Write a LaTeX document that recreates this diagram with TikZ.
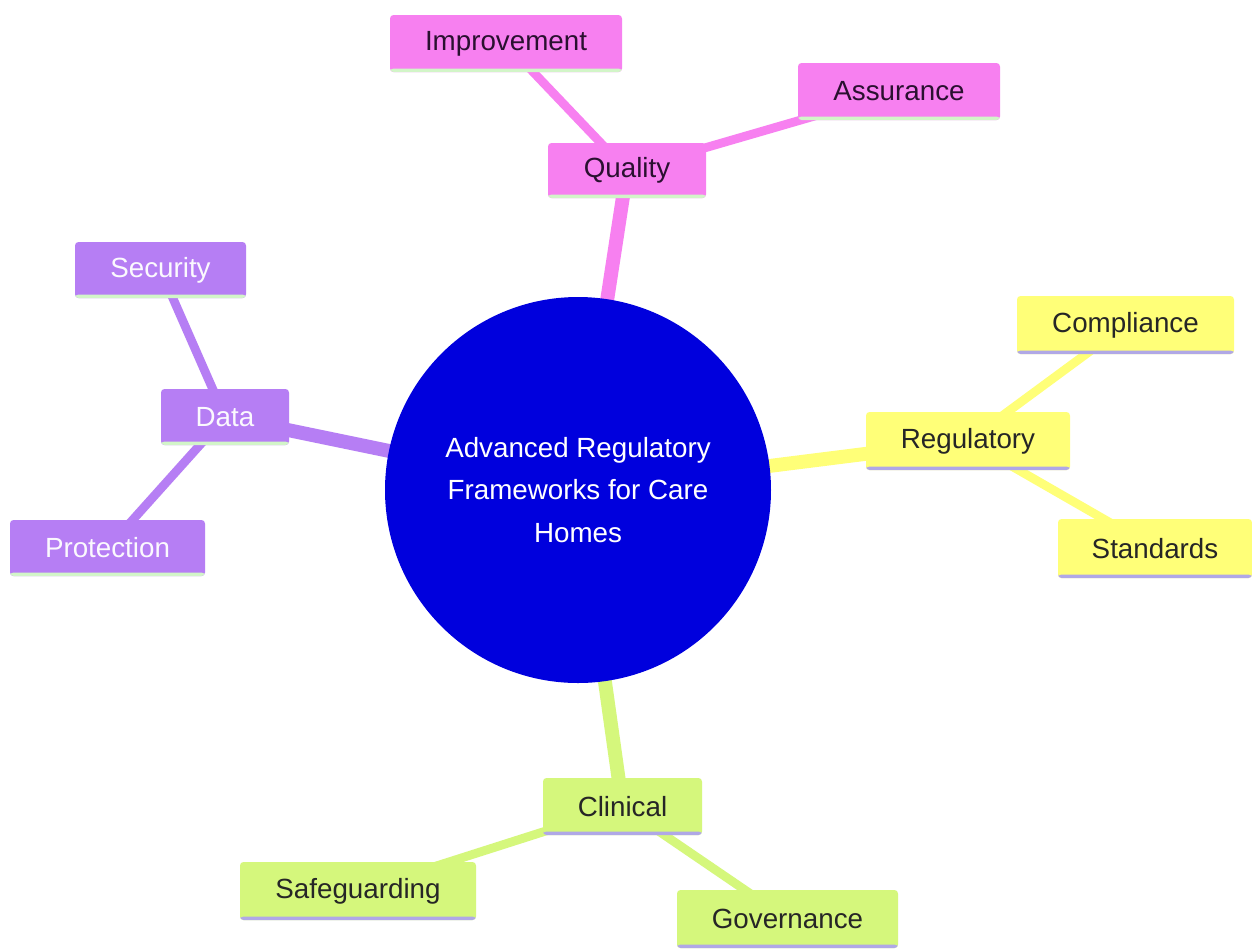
\documentclass[tikz,border=0pt]{standalone}
\usepackage{fontspec}
\setmainfont{Liberation Sans}
\usetikzlibrary{backgrounds}
\definecolor{pinkc}{HTML}{F780F0}
\definecolor{purpc}{HTML}{B67EF4}
\definecolor{yellc}{HTML}{FFFF78}
\definecolor{greenc}{HTML}{D5F77C}
\definecolor{blueC}{HTML}{0000DD}
\definecolor{lgreenline}{HTML}{D2F5C8}
\definecolor{lpurpline}{HTML}{B0A8E6}
\definecolor{darktxt}{HTML}{2A1030}
\tikzset{
  box/.style={rectangle, rounded corners=2pt, inner sep=0pt, font=\fontsize{15.8}{19}\selectfont},
  pinkbox/.style={box, fill=pinkc, text=darktxt, path picture={\fill[lgreenline] ([yshift=0.07cm]path picture bounding box.south west) rectangle (path picture bounding box.south east);}},
  purpbox/.style={box, fill=purpc, text=white!95!purpc, path picture={\fill[lgreenline] ([yshift=0.07cm]path picture bounding box.south west) rectangle (path picture bounding box.south east);}},
  yellbox/.style={box, fill=yellc, text=black!85, path picture={\fill[lpurpline] ([yshift=0.07cm]path picture bounding box.south west) rectangle (path picture bounding box.south east);}},
  greenbox/.style={box, fill=greenc, text=black!85, path picture={\fill[lpurpline] ([yshift=0.07cm]path picture bounding box.south west) rectangle (path picture bounding box.south east);}},
  mainedge/.style={line width=7.9pt},
  subedge/.style={line width=5pt},
}
\begin{document}
\begin{tikzpicture}[x=0.02cm,y=-0.02cm]
\useasboundingbox (0,0) rectangle (1252,948);
% central
\node[circle, fill=blueC, minimum size=386*0.02cm, inner sep=0pt, text=white, align=center, font=\fontsize{15.8}{24.2}\selectfont] (root) at (578,490) {Advanced Regulatory\\Frameworks for Care\\Homes};
% Quality branch
\node[pinkbox, minimum width=158*0.02cm, minimum height=55*0.02cm] (quality) at (627,170.5) {Quality};
\node[pinkbox, minimum width=232*0.02cm, minimum height=57*0.02cm] (improvement) at (506,43.5) {Improvement};
\node[pinkbox, minimum width=202*0.02cm, minimum height=57*0.02cm] (assurance) at (899,91.5) {Assurance};
% Data branch
\node[purpbox, minimum width=128*0.02cm, minimum height=56*0.02cm] (data) at (225,417) {Data};
\node[purpbox, minimum width=171*0.02cm, minimum height=56*0.02cm] (security) at (160.5,270) {Security};
\node[purpbox, minimum width=195*0.02cm, minimum height=56*0.02cm] (protection) at (107.5,548) {Protection};
% Regulatory branch
\node[yellbox, minimum width=204*0.02cm, minimum height=58*0.02cm] (regulatory) at (968,441) {Regulatory};
\node[yellbox, minimum width=217*0.02cm, minimum height=58*0.02cm] (compliance) at (1125.5,325) {Compliance};
\node[yellbox, minimum width=194*0.02cm, minimum height=59*0.02cm] (standards) at (1155,548.5) {Standards};
% Clinical branch
\node[greenbox, minimum width=159*0.02cm, minimum height=57*0.02cm] (clinical) at (622.5,806.5) {Clinical};
\node[greenbox, minimum width=236*0.02cm, minimum height=58*0.02cm] (safeguarding) at (358,891) {Safeguarding};
\node[greenbox, minimum width=221*0.02cm, minimum height=58*0.02cm] (governance) at (787.5,919) {Governance};
\begin{scope}[on background layer]
\fill[white] (0,0) rectangle (1252,948);
\draw[mainedge, pinkc] (root.center) -- (quality.center);
\draw[subedge, pinkc] (quality.center) -- (improvement.center);
\draw[subedge, pinkc] (quality.center) -- (assurance.center);
\draw[mainedge, purpc] (root.center) -- (data.center);
\draw[subedge, purpc] (data.center) -- (security.center);
\draw[subedge, purpc] (data.center) -- (protection.center);
\draw[mainedge, yellc] (root.center) -- (regulatory.center);
\draw[subedge, yellc] (regulatory.center) -- (compliance.center);
\draw[subedge, yellc] (regulatory.center) -- (standards.center);
\draw[mainedge, greenc] (root.center) -- (clinical.center);
\draw[subedge, greenc] (clinical.center) -- (safeguarding.center);
\draw[subedge, greenc] (clinical.center) -- (governance.center);
\end{scope}
\end{tikzpicture}
\end{document}
